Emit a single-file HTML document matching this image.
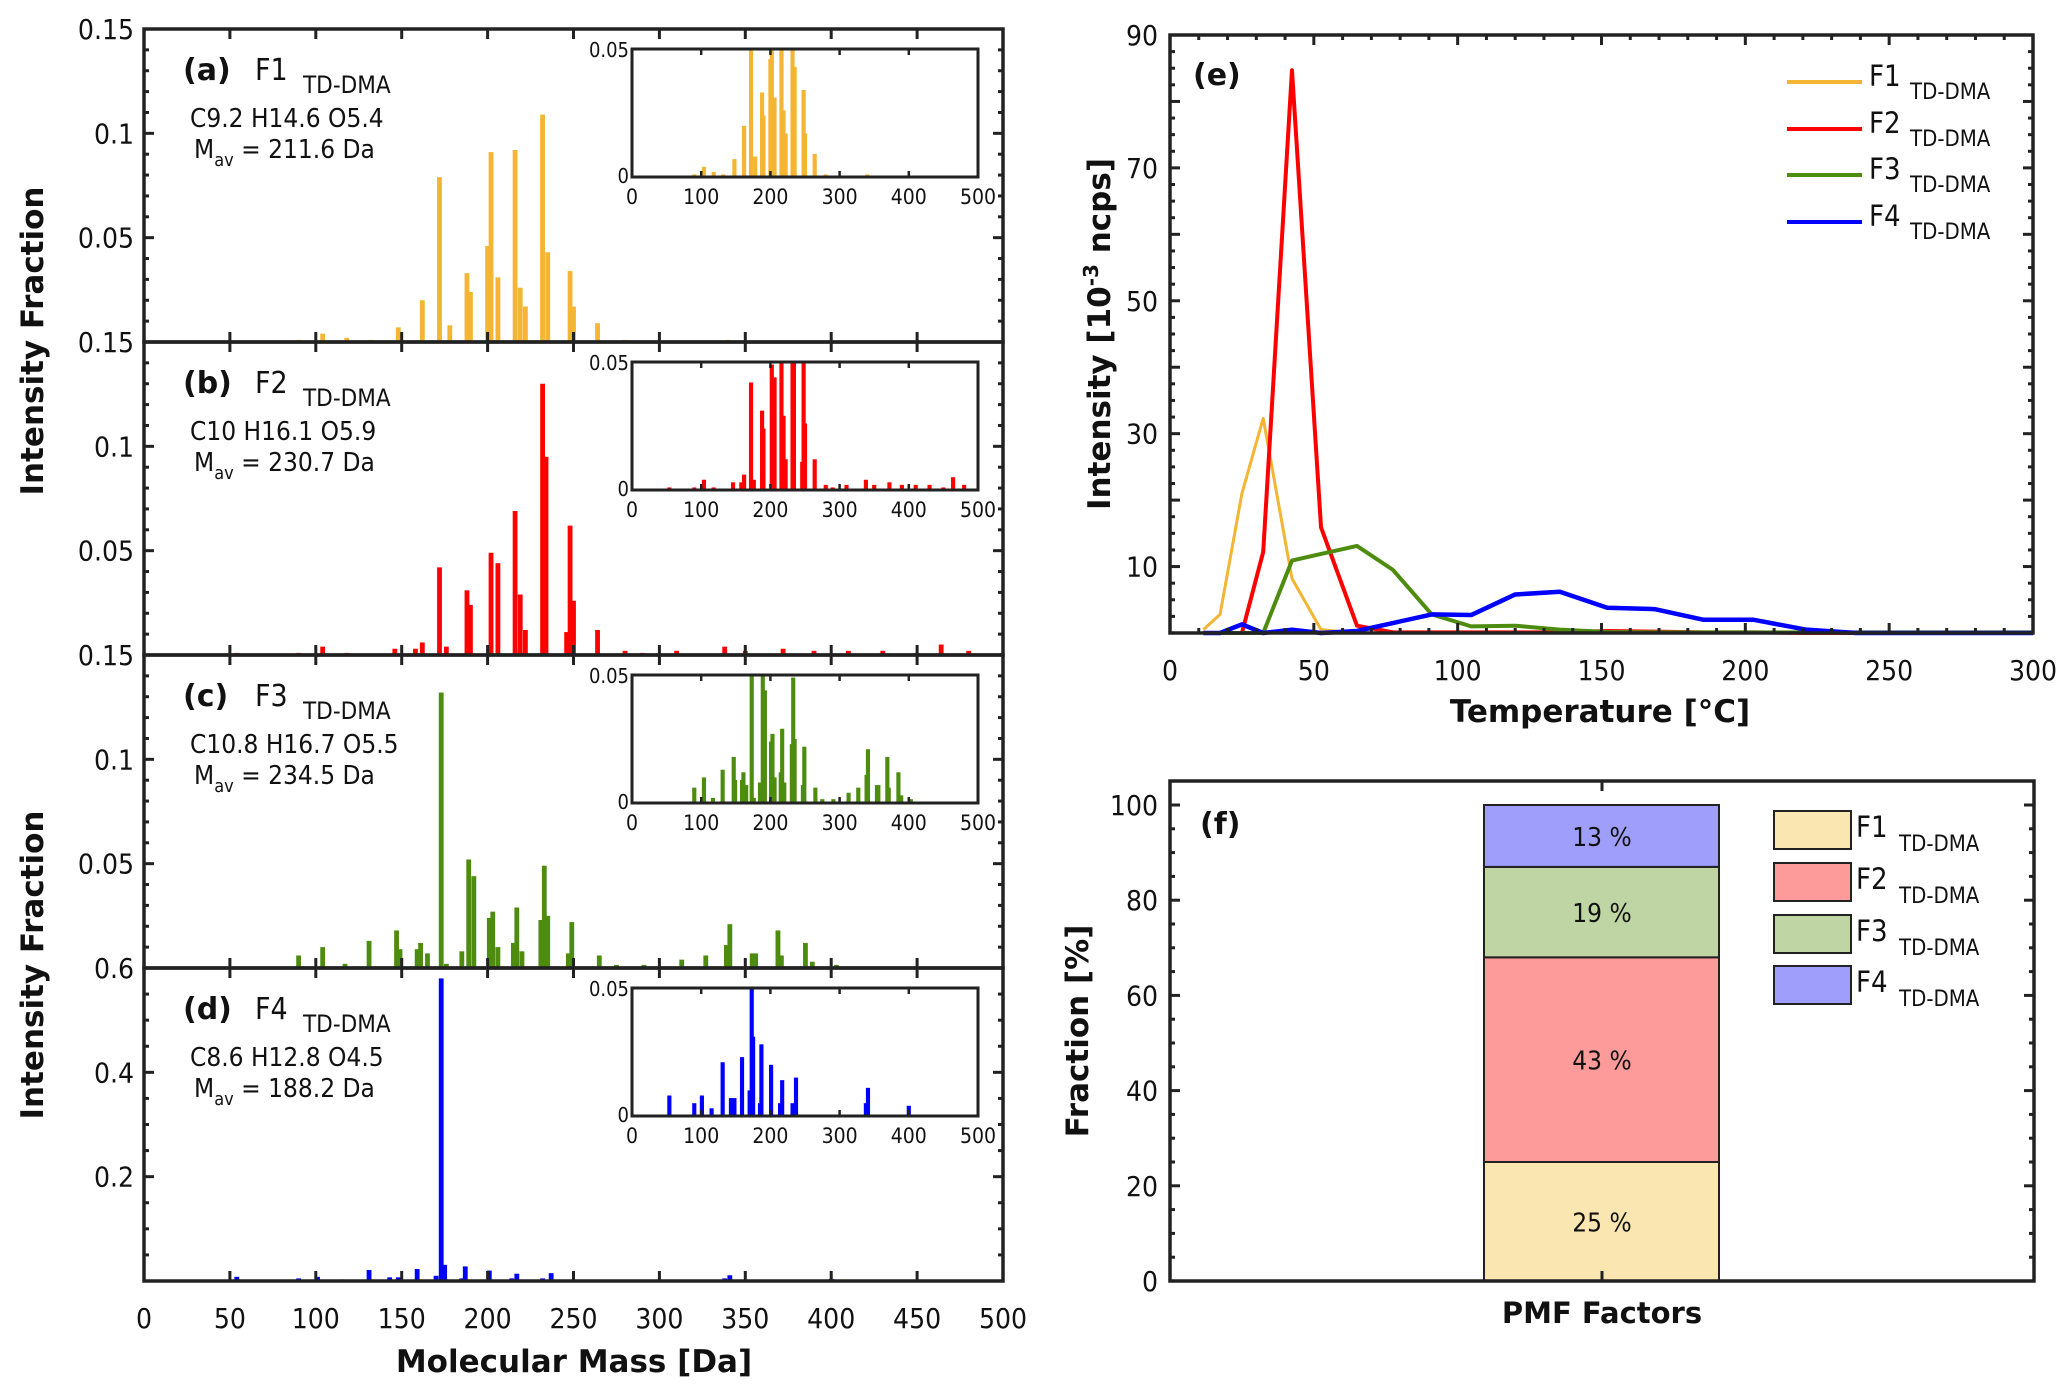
<!DOCTYPE html>
<html><head><meta charset="utf-8"><style>
html,body{margin:0;padding:0;background:#fff;}
svg{display:block;}
text{font-family:"DejaVu Sans Condensed","DejaVu Sans","Liberation Sans",sans-serif;fill:#111;}
.b{font-family:"DejaVu Sans","Liberation Sans",sans-serif;font-weight:bold;}
</style></head><body>
<svg id="fig" width="2067" height="1389" viewBox="0 0 2067 1389" xmlns="http://www.w3.org/2000/svg"></svg>
<script>
// ---------- Data: mass spectra (Da, intensity fraction) ----------
const massA = [90,104,118,132,148,162,172,178,188,190,200,202,206,216,219,222,232,235,248,250,264,280,300,340,380,420];
const valA  = [0.001,0.004,0.002,0.001,0.007,0.020,0.079,0.008,0.033,0.024,0.046,0.091,0.031,0.092,0.026,0.017,0.109,0.043,0.034,0.017,0.009,0.001,0.0005,0.001,0.0005,0.0005];
const massB = [54,90,104,118,146,158,162,172,176,188,190,202,206,216,219,222,232,234,246,248,250,264,280,290,310,338,350,372,390,410,430,450,464,480];
const valB  = [0.001,0.001,0.004,0.001,0.003,0.003,0.006,0.042,0.004,0.031,0.024,0.049,0.044,0.069,0.029,0.012,0.130,0.095,0.011,0.062,0.026,0.012,0.002,0.001,0.002,0.004,0.002,0.003,0.002,0.002,0.002,0.001,0.005,0.002];
const massC = [54,90,104,117,131,147,149,159,161,165,173,176,185,189,192,201,203,206,215,217,220,231,233,235,247,249,265,275,291,313,327,339,341,354,356,369,371,385,389,403,418,432];
const valC  = [0.0005,0.006,0.010,0.002,0.013,0.018,0.009,0.009,0.012,0.007,0.132,0.002,0.008,0.052,0.044,0.024,0.027,0.010,0.012,0.029,0.008,0.023,0.049,0.025,0.007,0.022,0.006,0.0015,0.0015,0.004,0.006,0.011,0.021,0.007,0.007,0.018,0.006,0.012,0.003,0.0015,0.0005,0.0005];
const massD = [54,90,101,115,131,143,148,159,170,173,175,185,187,201,214,217,232,237,338,341,400];
const valD  = [0.008,0.005,0.008,0.003,0.021,0.007,0.007,0.023,0.010,0.580,0.031,0.005,0.028,0.020,0.005,0.014,0.005,0.015,0.005,0.011,0.004];
// ---------- Data: thermograms ----------
const temps = [11.6,17.4,25,32.4,42.4,52.5,65,77.5,91,104.7,120,135.5,152,168.4,185.3,202.7,221.2,238.6,255,270,285,300];
const thF1 = [0.5,2.8,21,32.3,8.2,0.5,0,0,0,0,0,0,0,0,0,0,0,0,0,0,0,0];
const thF2 = [0,0,0,12.2,84.7,15.9,1.1,0.1,0.1,0.1,0.1,0.1,0.3,0.2,0.1,0.1,0,0,0,0,0,0];
const thF3 = [0,0,0,0,10.9,11.9,13.1,9.5,2.8,1.0,1.1,0.5,0.15,0.1,0.1,0.1,0.1,0.1,0.1,0.1,0.1,0.1];
const thF4 = [0,0,1.3,0,0.5,0,0.3,1.5,2.8,2.7,5.8,6.2,3.8,3.6,2.0,2.0,0.5,0,0,0,0,0];
// ---------- Data: fractions ----------
const fracLabels = ["F1","F2","F3","F4"];
const fracValues = [25,43,19,13];
const fracText = ["25 %","43 %","19 %","13 %"];

const NS="http://www.w3.org/2000/svg";
const svg=document.getElementById('fig');
function mk(tag,attrs,parent){const e=document.createElementNS(NS,tag);for(const k in attrs)e.setAttribute(k,attrs[k]);(parent||svg).appendChild(e);return e;}
function txt(x,y,s,size,anchor,cls,parent){const t=mk('text',{x:x,y:y,'font-size':size,'text-anchor':anchor||'start'},parent);if(cls)t.setAttribute('class',cls);t.textContent=s;return t;}

// ---------- Left panels ----------
const LX0=144,LX1=1003,PT=29,PH=313;
const mx=m=>LX0+(LX1-LX0)*m/500;
const panels=[
 {m:massA,v:valA,max:0.15,col:'#f3b533',lab:'(a)',f:'F1',form:'C9.2 H14.6 O5.4',mav:'211.6',ticks:[[0.15,'0.15'],[0.1,'0.1'],[0.05,'0.05']],minor:0.01,name:'f1'},
 {m:massB,v:valB,max:0.15,col:'#ff0000',lab:'(b)',f:'F2',form:'C10 H16.1 O5.9',mav:'230.7',ticks:[[0.15,'0.15'],[0.1,'0.1'],[0.05,'0.05']],minor:0.01,name:'f2'},
 {m:massC,v:valC,max:0.15,col:'#4d8c0f',lab:'(c)',f:'F3',form:'C10.8 H16.7 O5.5',mav:'234.5',ticks:[[0.15,'0.15'],[0.1,'0.1'],[0.05,'0.05']],minor:0.01,name:'f3'},
 {m:massD,v:valD,max:0.6,col:'#0000ff',lab:'(d)',f:'F4',form:'C8.6 H12.8 O4.5',mav:'188.2',ticks:[[0.6,'0.6'],[0.4,'0.4'],[0.2,'0.2']],minor:0.05,name:'f4'}
];
panels.forEach((p,i)=>{
  const top=PT+PH*i,bot=top+PH;
  const g=mk('g',{});
  
  
  const y=v=>bot-(Math.min(v,p.max)/p.max)*PH;
  p.m.forEach((m,j)=>{
    const r=mk('rect',{x:mx(m-1.4),y:y(p.v[j]),width:mx(2.8)-mx(0),height:bot-y(p.v[j]),fill:p.col},g);
    
    
  });
  for(let d=50;d<500;d+=50){mk('line',{x1:mx(d),x2:mx(d),y1:bot,y2:bot-10,stroke:'#222','stroke-width':3},g);mk('line',{x1:mx(d),x2:mx(d),y1:top,y2:top+10,stroke:'#222','stroke-width':3},g);}
  for(let v=p.minor;v<p.max-1e-9;v+=p.minor){const yy=y(v);const maj=Math.abs(v/(p.max/3)-Math.round(v/(p.max/3)))<1e-6;const L=maj?10:5;
    mk('line',{x1:LX0,x2:LX0+L,y1:yy,y2:yy,stroke:'#222','stroke-width':3},g);mk('line',{x1:LX1,x2:LX1-L,y1:yy,y2:yy,stroke:'#222','stroke-width':3},g);}
  p.ticks.forEach(t=>{const tt=txt(134,y(t[0])+10,t[1],28,'end',null,g);});
  mk('rect',{x:LX0,y:top,width:LX1-LX0,height:PH,fill:'none',stroke:'#222','stroke-width':3.5},g);
  txt(183,80+top-29,p.lab,30,'start','b',g);
  txt(255,80+top-29,p.f,30,'start',null,g);
  txt(303,93+top-29,'TD-DMA',24,'start',null,g);
  txt(190,127+top-29,p.form,26,'start',null,g);
  const mt=txt(194,158+top-29,'',26,'start',null,g);
  mt.innerHTML='M<tspan font-size="18" dy="8">av</tspan><tspan dy="-8"> = '+p.mav+' Da</tspan>';
  const ix0=632,ix1=978,it=top+20,ib=top+148;
  const ig=mk('g',{},g);
  
  
  const ixs=m=>ix0+(ix1-ix0)*m/500, iys=v=>ib-(Math.min(v,0.05)/0.05)*(ib-it);
  p.m.forEach((m,j)=>{const r=mk('rect',{x:ixs(m-3),y:iys(p.v[j]),width:ixs(6)-ixs(0),height:ib-iys(p.v[j]),fill:p.col},ig);
    
    });
  for(let d=0;d<=500;d+=100){if(d>0&&d<500){mk('line',{x1:ixs(d),x2:ixs(d),y1:ib,y2:ib-6,stroke:'#222','stroke-width':2.5},ig);mk('line',{x1:ixs(d),x2:ixs(d),y1:it,y2:it+6,stroke:'#222','stroke-width':2.5},ig);}
    txt(ixs(d),ib+27,String(d),21,'middle',null,ig);}
  mk('rect',{x:ix0,y:it,width:ix1-ix0,height:ib-it,fill:'none',stroke:'#222','stroke-width':3},ig);
  txt(ix0-3,it+8,'0.05',20,'end',null,ig);
  txt(ix0-3,ib+6,'0',20,'end',null,ig);
});
for(let d=0;d<=500;d+=50){const t=txt(mx(d),1328,String(d),28,'middle');}
let t1=txt(574,1372,'Molecular Mass [Da]',31,'middle','b');
[341,965].forEach((cy,k)=>{const t=txt(0,0,'Intensity Fraction',31,'middle','b');t.setAttribute('transform','translate(43,'+cy+') rotate(-90)');
 });

// ---------- Panel e ----------
const EX0=1170,EX1=2033,ET=35,EB=633;
const ex=t=>EX0+(EX1-EX0)*t/300, ey=v=>EB-(EB-ET)*v/90;
const eg=mk('g',{});
[[thF1,'#f3b533',3],[thF2,'#ff0000',4],[thF3,'#4d8c0f',4],[thF4,'#0000ff',4.5]].forEach((s,k)=>{
  const pts=temps.map((t,j)=>ex(t)+','+ey(s[0][j])).join(' ');
  const pl=mk('polyline',{points:pts,fill:'none',stroke:s[1],'stroke-width':s[2],'stroke-linejoin':'round'},eg);
  
  
});
for(let t=10;t<300;t+=10){const maj=t%50===0;const L=maj?10:5;mk('line',{x1:ex(t),x2:ex(t),y1:EB,y2:EB-L,stroke:'#222','stroke-width':3},eg);mk('line',{x1:ex(t),x2:ex(t),y1:ET,y2:ET+L,stroke:'#222','stroke-width':3},eg);}
for(let v=2.5;v<90;v+=2.5){const maj=v%10===0;const L=maj?10:5;mk('line',{x1:EX0,x2:EX0+L,y1:ey(v),y2:ey(v),stroke:'#222','stroke-width':3},eg);mk('line',{x1:EX1,x2:EX1-L,y1:ey(v),y2:ey(v),stroke:'#222','stroke-width':3},eg);}
[10,30,50,70,90].forEach(v=>txt(1158,ey(v)+10,String(v),28,'end',null,eg));
for(let t=0;t<=300;t+=50)txt(ex(t),680,String(t),28,'middle',null,eg);
mk('rect',{x:EX0,y:ET,width:EX1-EX0,height:EB-ET,fill:'none',stroke:'#222','stroke-width':3.5},eg);
txt(1193,85,'(e)',30,'start','b',eg);
let tx=txt(1600,722,'Temperature [°C]',31,'middle','b',eg);
let ty=txt(0,0,'',31,'middle','b',eg);ty.setAttribute('transform','translate(1110,334) rotate(-90)');
ty.innerHTML='Intensity [10<tspan font-size="20" dy="-12">-3</tspan><tspan dy="12"> ncps]</tspan>';

const lcols=['#f3b533','#ff0000','#4d8c0f','#0000ff'];
[82,129,175,222].forEach((yy,k)=>{
  const lg=mk('g',{},eg);
  mk('line',{x1:1787,x2:1862,y1:yy,y2:yy,stroke:lcols[k],'stroke-width':4},lg);
  txt(1869,yy+4,fracLabels[k],29,'start',null,lg);txt(1910,yy+17,'TD-DMA',22,'start',null,lg);
});

// ---------- Panel f ----------
const FX0=1170,FX1=2034,FT=781,FB=1281;
const fy=v=>FB-(FB-805)*v/100;
const fg=mk('g',{});
const fcols=['#fae6b0','#fd9b9b','#bfd6a4','#9f9ffb'];
let cum=0;
fracValues.forEach((v,k)=>{
  const r=mk('rect',{x:1484,y:fy(cum+v),width:235,height:fy(cum)-fy(cum+v),fill:fcols[k],stroke:'#222','stroke-width':2},fg);
  
  
  txt(1602,(fy(cum)+fy(cum+v))/2+10,fracText[k],26,'middle',null,fg);
  cum+=v;
});
for(let v=5;v<=100;v+=5){const maj=v%20===0;const L=maj?10:5;mk('line',{x1:FX0,x2:FX0+L,y1:fy(v),y2:fy(v),stroke:'#222','stroke-width':3},fg);mk('line',{x1:FX1,x2:FX1-L,y1:fy(v),y2:fy(v),stroke:'#222','stroke-width':3},fg);}
mk('line',{x1:1602,x2:1602,y1:FB,y2:FB-10,stroke:'#222','stroke-width':3},fg);
mk('line',{x1:1602,x2:1602,y1:FT,y2:FT+10,stroke:'#222','stroke-width':3},fg);
for(let v=0;v<=100;v+=20)txt(1158,fy(v)+10,String(v),28,'end',null,fg);
mk('rect',{x:FX0,y:FT,width:FX1-FX0,height:FB-FT,fill:'none',stroke:'#222','stroke-width':3.5},fg);
txt(1200,834,'(f)',30,'start','b',fg);
let fx=txt(1602,1323,'PMF Factors',29,'middle','b',fg);
let fyt=txt(0,0,'Fraction [%]',31,'middle','b',fg);fyt.setAttribute('transform','translate(1088,1031) rotate(-90)');

[811,863,915,966].forEach((yy,k)=>{
  const lg=mk('g',{},fg);
  mk('rect',{x:1774,y:yy,width:77,height:38,fill:fcols[k],stroke:'#222','stroke-width':2},lg);
  txt(1856,yy+26,fracLabels[k],29,'start',null,lg);txt(1899,yy+40,'TD-DMA',22,'start',null,lg);
});
</script>
</body></html>
